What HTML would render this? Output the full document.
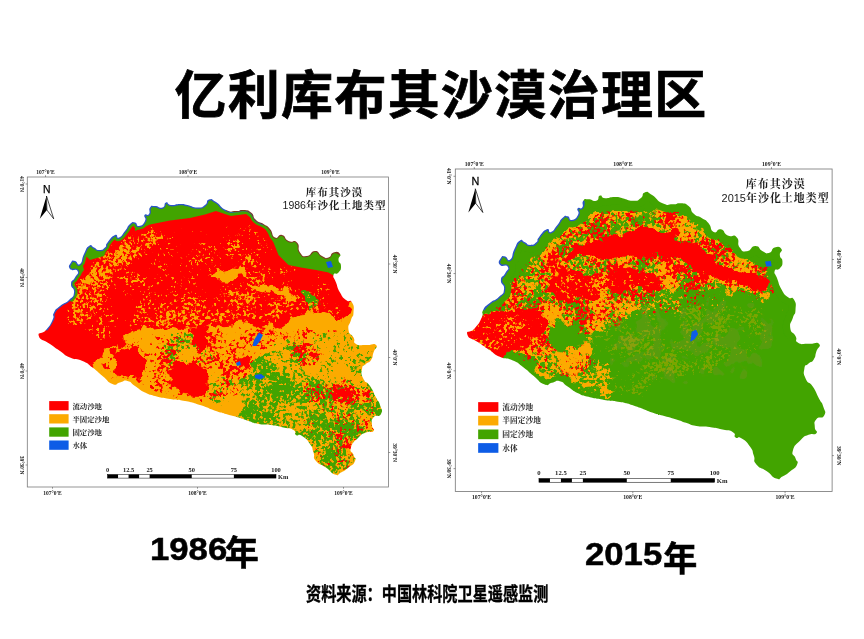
<!DOCTYPE html>
<html lang="zh"><head><meta charset="utf-8"><title>亿利库布其沙漠治理区</title>
<style>
html,body{margin:0;padding:0;background:#fff}
body{width:864px;height:639px;position:relative;overflow:hidden;font-family:"Liberation Sans","Noto Sans CJK SC",sans-serif;color:#000}
.t{position:absolute;white-space:nowrap;line-height:1}
#title{left:174.5px;top:70px;font-size:52px;font-weight:700;-webkit-text-stroke:0.7px #000;letter-spacing:1.3px}
.yr{font-size:32px;font-weight:bold}
.yr span{display:inline-block;transform:scaleX(1.085);transform-origin:0 50%;-webkit-text-stroke:0.5px #000}
.yr b{font-weight:700;-webkit-text-stroke:0.6px #000;font-size:34px;position:relative;top:5.5px;margin-left:4px;display:inline-block}
#y2 b{margin-left:7.5px}
#y1{left:149.5px;top:530.5px}
#y2{left:584.5px;top:536px}
#src{left:306px;top:585px;font-size:19.5px;font-weight:bold;-webkit-text-stroke:0.35px #000;transform:scaleX(.777);transform-origin:0 0}
</style></head><body>
<div class="t" id="title">亿利库布其沙漠治理区</div>
<svg width="864" height="639" viewBox="0 0 864 639" style="position:absolute;left:0;top:0"><defs><clipPath id="oc"><path d="M38.8,336.0C37.4,331.3 41.4,335.3 46.0,330.0C50.6,324.7 49.8,325.8 52.5,320.0C55.2,314.2 51.5,317.2 54.0,312.5C56.5,307.8 55.0,310.2 60.0,306.0C65.0,301.8 64.3,304.5 69.0,300.0C73.7,295.5 73.3,297.8 74.0,292.5C74.7,287.2 70.7,289.0 71.0,284.0C71.3,279.0 72.8,281.8 75.0,277.5C77.2,273.2 79.2,273.8 77.5,271.0C75.8,268.2 72.2,271.8 70.0,269.0C67.8,266.2 69.3,265.2 71.0,262.5C72.7,259.8 72.0,260.5 75.0,261.0C78.0,261.5 77.0,266.3 80.0,264.0C83.0,261.7 81.0,260.0 84.0,254.0C87.0,248.0 85.7,248.2 89.0,246.0C92.3,243.8 90.7,246.2 94.0,247.5C97.3,248.8 95.3,250.0 99.0,250.0C102.7,250.0 102.2,250.0 105.0,247.5C107.8,245.0 104.2,246.7 107.5,242.5C110.8,238.3 111.2,236.7 115.0,235.0C118.8,233.3 115.7,238.8 119.0,237.5C122.3,236.2 121.3,235.5 125.0,231.0C128.7,226.5 126.7,226.8 130.0,224.0C133.3,221.2 132.0,221.8 135.0,222.5C138.0,223.2 135.7,226.5 139.0,226.0C142.3,225.5 143.2,224.7 145.0,221.0C146.8,217.3 143.2,217.3 144.5,215.0C145.8,212.7 147.2,216.5 149.0,214.0C150.8,211.5 148.0,210.2 150.0,207.5C152.0,204.8 150.8,206.0 155.0,206.0C159.2,206.0 158.8,208.7 162.5,207.5C166.2,206.3 163.2,203.3 166.0,202.5C168.8,201.7 166.3,204.5 171.0,205.0C175.7,205.5 174.5,204.0 180.0,204.0C185.5,204.0 181.7,203.8 187.5,205.0C193.3,206.2 191.7,207.5 197.5,207.5C203.3,207.5 201.2,207.7 205.0,205.0C208.8,202.3 205.3,200.5 209.0,199.5C212.7,198.5 210.3,198.5 216.0,202.0C221.7,205.5 219.3,207.0 226.0,210.0C232.7,213.0 230.2,211.0 236.0,211.0C241.8,211.0 238.5,209.5 243.5,210.0C248.5,210.5 246.8,209.2 251.0,212.5C255.2,215.8 251.8,216.2 256.0,220.0C260.2,223.8 258.8,221.0 263.5,224.0C268.2,227.0 266.2,224.5 270.0,229.0C273.8,233.5 271.0,235.5 275.0,237.5C279.0,239.5 277.5,233.8 282.0,235.0C286.5,236.2 283.5,238.5 288.5,241.0C293.5,243.5 293.2,238.7 297.0,242.5C300.8,246.3 296.7,248.0 300.0,252.5C303.3,257.0 302.0,256.5 307.0,256.0C312.0,255.5 310.0,251.0 315.0,251.0C320.0,251.0 317.5,253.8 322.0,256.0C326.5,258.2 324.7,258.7 328.5,257.5C332.3,256.3 329.7,253.7 333.5,252.5C337.3,251.3 338.3,251.5 340.0,254.0C341.7,256.5 338.2,256.0 338.5,260.0C338.8,264.0 341.0,261.8 341.0,266.0C341.0,270.2 341.0,269.5 338.5,272.5C336.0,275.5 334.3,271.7 333.5,275.0C332.7,278.3 333.8,276.7 336.0,282.5C338.2,288.3 336.7,286.7 340.0,292.5C343.3,298.3 342.0,296.7 346.0,300.0C350.0,303.3 349.5,298.3 352.0,302.5C354.5,306.7 353.8,306.7 353.5,312.5C353.2,318.3 352.7,314.2 351.0,320.0C349.3,325.8 347.7,324.2 348.5,330.0C349.3,335.8 351.0,332.8 353.5,337.5C356.0,342.2 351.8,341.5 356.0,344.0C360.2,346.5 359.3,344.7 366.0,345.0C372.7,345.3 373.5,342.5 376.0,345.0C378.5,347.5 375.2,347.5 373.5,352.5C371.8,357.5 373.5,356.2 371.0,360.0C368.5,363.8 369.0,361.0 366.0,364.0C363.0,367.0 362.8,364.0 362.0,369.0C361.2,374.0 360.8,373.3 363.5,379.0C366.2,384.7 365.8,379.8 370.0,386.0C374.2,392.2 372.7,391.2 376.0,397.5C379.3,403.8 378.3,399.5 380.0,405.0C381.7,410.5 383.2,409.8 381.0,414.0C378.8,418.2 376.5,413.8 373.5,417.5C370.5,421.2 372.0,420.5 372.0,425.0C372.0,429.5 375.5,428.5 373.5,431.0C371.5,433.5 371.0,430.3 366.0,432.5C361.0,434.7 363.5,432.5 358.5,437.5C353.5,442.5 352.7,441.7 351.0,447.5C349.3,453.3 352.2,450.5 353.5,455.0C354.8,459.5 356.7,456.8 355.0,461.0C353.3,465.2 353.2,463.7 348.5,467.5C343.8,471.3 345.5,470.2 341.0,472.5C336.5,474.8 340.0,476.2 335.0,474.5C330.0,472.8 332.3,472.0 326.0,467.5C319.7,463.0 320.2,466.0 316.0,461.0C311.8,456.0 315.5,458.2 313.5,452.5C311.5,446.8 313.8,449.5 310.0,444.0C306.2,438.5 306.7,439.0 302.0,436.0C297.3,433.0 298.8,437.0 296.0,435.0C293.2,433.0 297.7,432.5 293.5,430.0C289.3,427.5 291.0,429.2 283.5,427.5C276.0,425.8 279.3,426.2 271.0,425.0C262.7,423.8 266.0,425.3 258.5,424.0C251.0,422.7 255.2,423.2 248.5,421.0C241.8,418.8 246.0,419.8 238.5,417.5C231.0,415.2 233.5,416.2 226.0,414.0C218.5,411.8 224.7,414.0 216.0,411.0C207.3,408.0 210.3,408.3 200.0,405.0C189.7,401.7 195.0,403.0 185.0,401.0C175.0,399.0 180.0,400.7 170.0,399.0C160.0,397.3 163.3,398.2 155.0,396.0C146.7,393.8 151.7,395.8 145.0,392.5C138.3,389.2 140.8,389.8 135.0,386.0C129.2,382.2 132.5,382.2 127.5,381.0C122.5,379.8 125.0,381.5 120.0,382.5C115.0,383.5 118.3,386.2 112.5,384.0C106.7,381.8 109.2,381.5 102.5,376.0C95.8,370.5 99.2,372.5 92.5,367.5C85.8,362.5 90.0,364.3 82.5,361.0C75.0,357.7 77.5,360.8 70.0,357.5C62.5,354.2 66.7,355.5 60.0,351.0C53.3,346.5 57.1,349.0 50.0,344.0C42.9,339.0 40.1,340.7 38.8,336.0Z"/></clipPath><filter id="rough" filterUnits="userSpaceOnUse" x="20" y="170" width="375" height="325" color-interpolation-filters="sRGB"><feTurbulence type="fractalNoise" baseFrequency="0.06" numOctaves="4" seed="7" result="t"/><feDisplacementMap in="SourceGraphic" in2="t" scale="22" xChannelSelector="R" yChannelSelector="G"/></filter><filter id="soft" filterUnits="userSpaceOnUse" x="20" y="170" width="375" height="325"><feGaussianBlur stdDeviation="0.7"/></filter><filter id="softer" filterUnits="userSpaceOnUse" x="0" y="150" width="420" height="360"><feGaussianBlur stdDeviation="0.35"/></filter><filter id="sGr1" filterUnits="userSpaceOnUse" x="20" y="170" width="375" height="325" color-interpolation-filters="sRGB"><feTurbulence type="fractalNoise" baseFrequency="0.3" numOctaves="2" seed="13" result="n"/><feColorMatrix in="n" type="matrix" values="0 0 0 0 0 0 0 0 0 0 0 0 0 0 0 1 0 0 0 0" result="na"/><feTurbulence type="fractalNoise" baseFrequency="0.045" numOctaves="2" seed="113" result="m"/><feColorMatrix in="m" type="matrix" values="0 0 0 0 0 0 0 0 0 0 0 0 0 0 0 0 1 0 0 0" result="ma"/><feComposite in="na" in2="ma" operator="arithmetic" k1="0" k2="1" k3="0.8" k4="-0.400" result="nm"/><feGaussianBlur in="SourceAlpha" stdDeviation="5" result="b"/><feComposite in="nm" in2="b" operator="arithmetic" k1="0" k2="1" k3="0.6" k4="-0.6" result="c"/><feComponentTransfer in="c" result="t"><feFuncA type="linear" slope="10" intercept="-5.000"/></feComponentTransfer><feFlood flood-color="#42a406"/><feComposite operator="in" in2="t"/></filter><filter id="sGr1b" filterUnits="userSpaceOnUse" x="20" y="170" width="375" height="325" color-interpolation-filters="sRGB"><feTurbulence type="fractalNoise" baseFrequency="0.3" numOctaves="2" seed="14" result="n"/><feColorMatrix in="n" type="matrix" values="0 0 0 0 0 0 0 0 0 0 0 0 0 0 0 1 0 0 0 0" result="na"/><feTurbulence type="fractalNoise" baseFrequency="0.045" numOctaves="2" seed="114" result="m"/><feColorMatrix in="m" type="matrix" values="0 0 0 0 0 0 0 0 0 0 0 0 0 0 0 0 1 0 0 0" result="ma"/><feComposite in="na" in2="ma" operator="arithmetic" k1="0" k2="1" k3="0.8" k4="-0.400" result="nm"/><feGaussianBlur in="SourceAlpha" stdDeviation="5" result="b"/><feComposite in="nm" in2="b" operator="arithmetic" k1="0" k2="1" k3="0.6" k4="-0.6" result="c"/><feComponentTransfer in="c" result="t"><feFuncA type="linear" slope="10" intercept="-5.800"/></feComponentTransfer><feFlood flood-color="#42a406"/><feComposite operator="in" in2="t"/></filter><filter id="sOr4" filterUnits="userSpaceOnUse" x="20" y="170" width="375" height="325" color-interpolation-filters="sRGB"><feTurbulence type="fractalNoise" baseFrequency="0.3" numOctaves="2" seed="17" result="n"/><feColorMatrix in="n" type="matrix" values="0 0 0 0 0 0 0 0 0 0 0 0 0 0 0 1 0 0 0 0" result="na"/><feTurbulence type="fractalNoise" baseFrequency="0.045" numOctaves="2" seed="117" result="m"/><feColorMatrix in="m" type="matrix" values="0 0 0 0 0 0 0 0 0 0 0 0 0 0 0 0 1 0 0 0" result="ma"/><feComposite in="na" in2="ma" operator="arithmetic" k1="0" k2="1" k3="0.8" k4="-0.400" result="nm"/><feGaussianBlur in="SourceAlpha" stdDeviation="5" result="b"/><feComposite in="nm" in2="b" operator="arithmetic" k1="0" k2="1" k3="0.6" k4="-0.6" result="c"/><feComponentTransfer in="c" result="t"><feFuncA type="linear" slope="10" intercept="-4.900"/></feComponentTransfer><feFlood flood-color="#fcaa04"/><feComposite operator="in" in2="t"/></filter><filter id="sGr2" filterUnits="userSpaceOnUse" x="20" y="170" width="375" height="325" color-interpolation-filters="sRGB"><feTurbulence type="fractalNoise" baseFrequency="0.3" numOctaves="2" seed="31" result="n"/><feColorMatrix in="n" type="matrix" values="0 0 0 0 0 0 0 0 0 0 0 0 0 0 0 1 0 0 0 0" result="na"/><feTurbulence type="fractalNoise" baseFrequency="0.045" numOctaves="2" seed="131" result="m"/><feColorMatrix in="m" type="matrix" values="0 0 0 0 0 0 0 0 0 0 0 0 0 0 0 0 1 0 0 0" result="ma"/><feComposite in="na" in2="ma" operator="arithmetic" k1="0" k2="1" k3="0.8" k4="-0.400" result="nm"/><feGaussianBlur in="SourceAlpha" stdDeviation="5" result="b"/><feComposite in="nm" in2="b" operator="arithmetic" k1="0" k2="1" k3="0.6" k4="-0.6" result="c"/><feComponentTransfer in="c" result="t"><feFuncA type="linear" slope="10" intercept="-5.900"/></feComponentTransfer><feFlood flood-color="#42a406"/><feComposite operator="in" in2="t"/></filter><filter id="sRd1" filterUnits="userSpaceOnUse" x="20" y="170" width="375" height="325" color-interpolation-filters="sRGB"><feTurbulence type="fractalNoise" baseFrequency="0.3" numOctaves="2" seed="5" result="n"/><feColorMatrix in="n" type="matrix" values="0 0 0 0 0 0 0 0 0 0 0 0 0 0 0 1 0 0 0 0" result="na"/><feTurbulence type="fractalNoise" baseFrequency="0.045" numOctaves="2" seed="105" result="m"/><feColorMatrix in="m" type="matrix" values="0 0 0 0 0 0 0 0 0 0 0 0 0 0 0 0 1 0 0 0" result="ma"/><feComposite in="na" in2="ma" operator="arithmetic" k1="0" k2="1" k3="0.8" k4="-0.400" result="nm"/><feGaussianBlur in="SourceAlpha" stdDeviation="3" result="b"/><feComposite in="nm" in2="b" operator="arithmetic" k1="0" k2="1" k3="0.6" k4="-0.6" result="c"/><feComponentTransfer in="c" result="t"><feFuncA type="linear" slope="10" intercept="-5.700"/></feComponentTransfer><feFlood flood-color="#fe0000"/><feComposite operator="in" in2="t"/></filter><filter id="sRd2" filterUnits="userSpaceOnUse" x="20" y="170" width="375" height="325" color-interpolation-filters="sRGB"><feTurbulence type="fractalNoise" baseFrequency="0.3" numOctaves="2" seed="9" result="n"/><feColorMatrix in="n" type="matrix" values="0 0 0 0 0 0 0 0 0 0 0 0 0 0 0 1 0 0 0 0" result="na"/><feTurbulence type="fractalNoise" baseFrequency="0.045" numOctaves="2" seed="109" result="m"/><feColorMatrix in="m" type="matrix" values="0 0 0 0 0 0 0 0 0 0 0 0 0 0 0 0 1 0 0 0" result="ma"/><feComposite in="na" in2="ma" operator="arithmetic" k1="0" k2="1" k3="0.8" k4="-0.400" result="nm"/><feGaussianBlur in="SourceAlpha" stdDeviation="4" result="b"/><feComposite in="nm" in2="b" operator="arithmetic" k1="0" k2="1" k3="0.6" k4="-0.6" result="c"/><feComponentTransfer in="c" result="t"><feFuncA type="linear" slope="10" intercept="-4.500"/></feComponentTransfer><feFlood flood-color="#fe0000"/><feComposite operator="in" in2="t"/></filter><filter id="sRd3" filterUnits="userSpaceOnUse" x="20" y="170" width="375" height="325" color-interpolation-filters="sRGB"><feTurbulence type="fractalNoise" baseFrequency="0.35" numOctaves="2" seed="29" result="n"/><feColorMatrix in="n" type="matrix" values="0 0 0 0 0 0 0 0 0 0 0 0 0 0 0 1 0 0 0 0" result="na"/><feTurbulence type="fractalNoise" baseFrequency="0.045" numOctaves="2" seed="129" result="m"/><feColorMatrix in="m" type="matrix" values="0 0 0 0 0 0 0 0 0 0 0 0 0 0 0 0 1 0 0 0" result="ma"/><feComposite in="na" in2="ma" operator="arithmetic" k1="0" k2="1" k3="0.8" k4="-0.400" result="nm"/><feGaussianBlur in="SourceAlpha" stdDeviation="5" result="b"/><feComposite in="nm" in2="b" operator="arithmetic" k1="0" k2="1" k3="0.6" k4="-0.6" result="c"/><feComponentTransfer in="c" result="t"><feFuncA type="linear" slope="10" intercept="-6.100"/></feComponentTransfer><feFlood flood-color="#fe0000"/><feComposite operator="in" in2="t"/></filter><filter id="sOr1" filterUnits="userSpaceOnUse" x="20" y="170" width="375" height="325" color-interpolation-filters="sRGB"><feTurbulence type="fractalNoise" baseFrequency="0.3" numOctaves="2" seed="3" result="n"/><feColorMatrix in="n" type="matrix" values="0 0 0 0 0 0 0 0 0 0 0 0 0 0 0 1 0 0 0 0" result="na"/><feTurbulence type="fractalNoise" baseFrequency="0.045" numOctaves="2" seed="103" result="m"/><feColorMatrix in="m" type="matrix" values="0 0 0 0 0 0 0 0 0 0 0 0 0 0 0 0 1 0 0 0" result="ma"/><feComposite in="na" in2="ma" operator="arithmetic" k1="0" k2="1" k3="0.8" k4="-0.400" result="nm"/><feGaussianBlur in="SourceAlpha" stdDeviation="3" result="b"/><feComposite in="nm" in2="b" operator="arithmetic" k1="0" k2="1" k3="0.6" k4="-0.6" result="c"/><feComponentTransfer in="c" result="t"><feFuncA type="linear" slope="10" intercept="-5.200"/></feComponentTransfer><feFlood flood-color="#fcaa04"/><feComposite operator="in" in2="t"/></filter><filter id="sOr2" filterUnits="userSpaceOnUse" x="20" y="170" width="375" height="325" color-interpolation-filters="sRGB"><feTurbulence type="fractalNoise" baseFrequency="0.3" numOctaves="2" seed="11" result="n"/><feColorMatrix in="n" type="matrix" values="0 0 0 0 0 0 0 0 0 0 0 0 0 0 0 1 0 0 0 0" result="na"/><feTurbulence type="fractalNoise" baseFrequency="0.045" numOctaves="2" seed="111" result="m"/><feColorMatrix in="m" type="matrix" values="0 0 0 0 0 0 0 0 0 0 0 0 0 0 0 0 1 0 0 0" result="ma"/><feComposite in="na" in2="ma" operator="arithmetic" k1="0" k2="1" k3="0.6" k4="-0.300" result="nm"/><feGaussianBlur in="SourceAlpha" stdDeviation="3" result="b"/><feComposite in="nm" in2="b" operator="arithmetic" k1="0" k2="1" k3="0.6" k4="-0.6" result="c"/><feComponentTransfer in="c" result="t"><feFuncA type="linear" slope="10" intercept="-5.700"/></feComponentTransfer><feFlood flood-color="#fcaa04"/><feComposite operator="in" in2="t"/></filter><filter id="sOr3" filterUnits="userSpaceOnUse" x="20" y="170" width="375" height="325" color-interpolation-filters="sRGB"><feTurbulence type="fractalNoise" baseFrequency="0.35" numOctaves="2" seed="23" result="n"/><feColorMatrix in="n" type="matrix" values="0 0 0 0 0 0 0 0 0 0 0 0 0 0 0 1 0 0 0 0" result="na"/><feTurbulence type="fractalNoise" baseFrequency="0.045" numOctaves="2" seed="123" result="m"/><feColorMatrix in="m" type="matrix" values="0 0 0 0 0 0 0 0 0 0 0 0 0 0 0 0 1 0 0 0" result="ma"/><feComposite in="na" in2="ma" operator="arithmetic" k1="0" k2="1" k3="0.8" k4="-0.400" result="nm"/><feGaussianBlur in="SourceAlpha" stdDeviation="3" result="b"/><feComposite in="nm" in2="b" operator="arithmetic" k1="0" k2="1" k3="0.6" k4="-0.6" result="c"/><feComponentTransfer in="c" result="t"><feFuncA type="linear" slope="10" intercept="-6.800"/></feComponentTransfer><feFlood flood-color="#fcaa04"/><feComposite operator="in" in2="t"/></filter><filter id="tRd1" filterUnits="userSpaceOnUse" x="20" y="170" width="375" height="325" color-interpolation-filters="sRGB"><feTurbulence type="fractalNoise" baseFrequency="0.3" numOctaves="2" seed="41" result="n"/><feColorMatrix in="n" type="matrix" values="0 0 0 0 0 0 0 0 0 0 0 0 0 0 0 1 0 0 0 0" result="na"/><feTurbulence type="fractalNoise" baseFrequency="0.045" numOctaves="2" seed="141" result="m"/><feColorMatrix in="m" type="matrix" values="0 0 0 0 0 0 0 0 0 0 0 0 0 0 0 0 1 0 0 0" result="ma"/><feComposite in="na" in2="ma" operator="arithmetic" k1="0" k2="1" k3="0.8" k4="-0.400" result="nm"/><feGaussianBlur in="SourceAlpha" stdDeviation="3" result="b"/><feComposite in="nm" in2="b" operator="arithmetic" k1="0" k2="1" k3="0.6" k4="-0.6" result="c"/><feComponentTransfer in="c" result="t"><feFuncA type="linear" slope="10" intercept="-4.700"/></feComponentTransfer><feFlood flood-color="#fe0000"/><feComposite operator="in" in2="t"/></filter><filter id="tGr1" filterUnits="userSpaceOnUse" x="20" y="170" width="375" height="325" color-interpolation-filters="sRGB"><feTurbulence type="fractalNoise" baseFrequency="0.3" numOctaves="2" seed="43" result="n"/><feColorMatrix in="n" type="matrix" values="0 0 0 0 0 0 0 0 0 0 0 0 0 0 0 1 0 0 0 0" result="na"/><feTurbulence type="fractalNoise" baseFrequency="0.045" numOctaves="2" seed="143" result="m"/><feColorMatrix in="m" type="matrix" values="0 0 0 0 0 0 0 0 0 0 0 0 0 0 0 0 1 0 0 0" result="ma"/><feComposite in="na" in2="ma" operator="arithmetic" k1="0" k2="1" k3="0.8" k4="-0.400" result="nm"/><feGaussianBlur in="SourceAlpha" stdDeviation="2" result="b"/><feComposite in="nm" in2="b" operator="arithmetic" k1="0" k2="1" k3="0.6" k4="-0.6" result="c"/><feComponentTransfer in="c" result="t"><feFuncA type="linear" slope="10" intercept="-5.500"/></feComponentTransfer><feFlood flood-color="#42a406"/><feComposite operator="in" in2="t"/></filter><filter id="tOr4" filterUnits="userSpaceOnUse" x="20" y="170" width="375" height="325" color-interpolation-filters="sRGB"><feTurbulence type="fractalNoise" baseFrequency="0.3" numOctaves="2" seed="67" result="n"/><feColorMatrix in="n" type="matrix" values="0 0 0 0 0 0 0 0 0 0 0 0 0 0 0 1 0 0 0 0" result="na"/><feTurbulence type="fractalNoise" baseFrequency="0.045" numOctaves="2" seed="167" result="m"/><feColorMatrix in="m" type="matrix" values="0 0 0 0 0 0 0 0 0 0 0 0 0 0 0 0 1 0 0 0" result="ma"/><feComposite in="na" in2="ma" operator="arithmetic" k1="0" k2="1" k3="0.8" k4="-0.400" result="nm"/><feGaussianBlur in="SourceAlpha" stdDeviation="6" result="b"/><feComposite in="nm" in2="b" operator="arithmetic" k1="0" k2="1" k3="0.6" k4="-0.6" result="c"/><feComponentTransfer in="c" result="t"><feFuncA type="linear" slope="10" intercept="-5.100"/></feComponentTransfer><feFlood flood-color="#fcaa04"/><feComposite operator="in" in2="t"/></filter><filter id="tRd4" filterUnits="userSpaceOnUse" x="20" y="170" width="375" height="325" color-interpolation-filters="sRGB"><feTurbulence type="fractalNoise" baseFrequency="0.3" numOctaves="2" seed="71" result="n"/><feColorMatrix in="n" type="matrix" values="0 0 0 0 0 0 0 0 0 0 0 0 0 0 0 1 0 0 0 0" result="na"/><feTurbulence type="fractalNoise" baseFrequency="0.045" numOctaves="2" seed="171" result="m"/><feColorMatrix in="m" type="matrix" values="0 0 0 0 0 0 0 0 0 0 0 0 0 0 0 0 1 0 0 0" result="ma"/><feComposite in="na" in2="ma" operator="arithmetic" k1="0" k2="1" k3="0.8" k4="-0.400" result="nm"/><feGaussianBlur in="SourceAlpha" stdDeviation="6" result="b"/><feComposite in="nm" in2="b" operator="arithmetic" k1="0" k2="1" k3="0.6" k4="-0.6" result="c"/><feComponentTransfer in="c" result="t"><feFuncA type="linear" slope="10" intercept="-5.500"/></feComponentTransfer><feFlood flood-color="#fe0000"/><feComposite operator="in" in2="t"/></filter><filter id="tOr3" filterUnits="userSpaceOnUse" x="20" y="170" width="375" height="325" color-interpolation-filters="sRGB"><feTurbulence type="fractalNoise" baseFrequency="0.3" numOctaves="2" seed="61" result="n"/><feColorMatrix in="n" type="matrix" values="0 0 0 0 0 0 0 0 0 0 0 0 0 0 0 1 0 0 0 0" result="na"/><feTurbulence type="fractalNoise" baseFrequency="0.045" numOctaves="2" seed="161" result="m"/><feColorMatrix in="m" type="matrix" values="0 0 0 0 0 0 0 0 0 0 0 0 0 0 0 0 1 0 0 0" result="ma"/><feComposite in="na" in2="ma" operator="arithmetic" k1="0" k2="1" k3="0.8" k4="-0.400" result="nm"/><feGaussianBlur in="SourceAlpha" stdDeviation="4" result="b"/><feComposite in="nm" in2="b" operator="arithmetic" k1="0" k2="1" k3="0.6" k4="-0.6" result="c"/><feComponentTransfer in="c" result="t"><feFuncA type="linear" slope="10" intercept="-4.200"/></feComponentTransfer><feFlood flood-color="#fcaa04"/><feComposite operator="in" in2="t"/></filter><filter id="tOr5" filterUnits="userSpaceOnUse" x="20" y="170" width="375" height="325" color-interpolation-filters="sRGB"><feTurbulence type="fractalNoise" baseFrequency="0.3" numOctaves="2" seed="73" result="n"/><feColorMatrix in="n" type="matrix" values="0 0 0 0 0 0 0 0 0 0 0 0 0 0 0 1 0 0 0 0" result="na"/><feTurbulence type="fractalNoise" baseFrequency="0.045" numOctaves="2" seed="173" result="m"/><feColorMatrix in="m" type="matrix" values="0 0 0 0 0 0 0 0 0 0 0 0 0 0 0 0 1 0 0 0" result="ma"/><feComposite in="na" in2="ma" operator="arithmetic" k1="0" k2="1" k3="0.8" k4="-0.400" result="nm"/><feGaussianBlur in="SourceAlpha" stdDeviation="5" result="b"/><feComposite in="nm" in2="b" operator="arithmetic" k1="0" k2="1" k3="0.6" k4="-0.6" result="c"/><feComponentTransfer in="c" result="t"><feFuncA type="linear" slope="10" intercept="-4.500"/></feComponentTransfer><feFlood flood-color="#fcaa04"/><feComposite operator="in" in2="t"/></filter><filter id="tOr1" filterUnits="userSpaceOnUse" x="20" y="170" width="375" height="325" color-interpolation-filters="sRGB"><feTurbulence type="fractalNoise" baseFrequency="0.35" numOctaves="2" seed="47" result="n"/><feColorMatrix in="n" type="matrix" values="0 0 0 0 0 0 0 0 0 0 0 0 0 0 0 1 0 0 0 0" result="na"/><feTurbulence type="fractalNoise" baseFrequency="0.045" numOctaves="2" seed="147" result="m"/><feColorMatrix in="m" type="matrix" values="0 0 0 0 0 0 0 0 0 0 0 0 0 0 0 0 1 0 0 0" result="ma"/><feComposite in="na" in2="ma" operator="arithmetic" k1="0" k2="1" k3="0.8" k4="-0.400" result="nm"/><feGaussianBlur in="SourceAlpha" stdDeviation="3" result="b"/><feComposite in="nm" in2="b" operator="arithmetic" k1="0" k2="1" k3="0.6" k4="-0.6" result="c"/><feComponentTransfer in="c" result="t"><feFuncA type="linear" slope="10" intercept="-5.900"/></feComponentTransfer><feFlood flood-color="#fcaa04"/><feComposite operator="in" in2="t"/></filter><filter id="tOl" filterUnits="userSpaceOnUse" x="20" y="170" width="375" height="325" color-interpolation-filters="sRGB"><feTurbulence type="fractalNoise" baseFrequency="0.08" numOctaves="2" seed="53" result="n"/><feColorMatrix in="n" type="matrix" values="0 0 0 0 0 0 0 0 0 0 0 0 0 0 0 1 0 0 0 0" result="na"/><feTurbulence type="fractalNoise" baseFrequency="0.045" numOctaves="2" seed="153" result="m"/><feColorMatrix in="m" type="matrix" values="0 0 0 0 0 0 0 0 0 0 0 0 0 0 0 0 1 0 0 0" result="ma"/><feComposite in="na" in2="ma" operator="arithmetic" k1="0" k2="1" k3="0.8" k4="-0.400" result="nm"/><feGaussianBlur in="SourceAlpha" stdDeviation="8" result="b"/><feComposite in="nm" in2="b" operator="arithmetic" k1="0" k2="1" k3="0.6" k4="-0.6" result="c"/><feComponentTransfer in="c" result="t"><feFuncA type="linear" slope="10" intercept="-4.800"/></feComponentTransfer><feFlood flood-color="#8a8f10"/><feComposite operator="in" in2="t"/></filter><filter id="tOr2" filterUnits="userSpaceOnUse" x="20" y="170" width="375" height="325" color-interpolation-filters="sRGB"><feTurbulence type="fractalNoise" baseFrequency="0.35" numOctaves="2" seed="59" result="n"/><feColorMatrix in="n" type="matrix" values="0 0 0 0 0 0 0 0 0 0 0 0 0 0 0 1 0 0 0 0" result="na"/><feTurbulence type="fractalNoise" baseFrequency="0.045" numOctaves="2" seed="159" result="m"/><feColorMatrix in="m" type="matrix" values="0 0 0 0 0 0 0 0 0 0 0 0 0 0 0 0 1 0 0 0" result="ma"/><feComposite in="na" in2="ma" operator="arithmetic" k1="0" k2="1" k3="0.8" k4="-0.400" result="nm"/><feGaussianBlur in="SourceAlpha" stdDeviation="6" result="b"/><feComposite in="nm" in2="b" operator="arithmetic" k1="0" k2="1" k3="0.6" k4="-0.6" result="c"/><feComponentTransfer in="c" result="t"><feFuncA type="linear" slope="10" intercept="-5.900"/></feComponentTransfer><feFlood flood-color="#fcaa04"/><feComposite operator="in" in2="t"/></filter></defs><g><g clip-path="url(#oc)"><g filter="url(#soft)"><g filter="url(#rough)"><rect x="20" y="170" width="375" height="325" fill="#fcaa04"/><polygon points="236.0,422.0 243.0,400.0 238.0,386.0 250.0,368.0 268.0,356.0 285.0,352.0 300.0,362.0 312.0,372.0 322.0,382.0 330.0,396.0 345.0,408.0 362.0,404.0 390.0,404.0 390.0,485.0 300.0,485.0" fill="#42a406" /></g><polygon points="262.0,342.0 300.0,332.0 345.0,326.0 392.0,335.0 396.0,378.0 340.0,380.0 300.0,366.0 270.0,356.0" fill="#000" filter="url(#sGr1b)" /><polygon points="300.0,368.0 340.0,376.0 396.0,374.0 396.0,445.0 372.0,445.0 330.0,400.0" fill="#000" filter="url(#sGr1)" /><polygon points="225.0,425.0 236.0,398.0 232.0,384.0 246.0,364.0 266.0,350.0 287.0,346.0 304.0,357.0 316.0,368.0 326.0,378.0 334.0,392.0 347.0,402.0 362.0,398.0 392.0,398.0 392.0,485.0 295.0,485.0" fill="#000" filter="url(#sOr4)" /><polygon points="150.0,330.0 200.0,325.0 215.0,350.0 240.0,380.0 238.0,415.0 200.0,404.0 170.0,380.0" fill="#000" filter="url(#sGr2)" /><polygon points="95.0,365.0 130.0,335.0 250.0,322.0 290.0,330.0 260.0,360.0 240.0,400.0 200.0,404.0 150.0,394.0 112.0,382.0" fill="#000" filter="url(#sRd1)" /><polygon points="288.0,345.0 305.0,338.0 322.0,345.0 320.0,362.0 302.0,370.0 288.0,362.0" fill="#000" filter="url(#sRd2)" /><polygon points="318.0,384.0 345.0,378.0 372.0,388.0 374.0,404.0 350.0,410.0 325.0,404.0" fill="#000" filter="url(#sRd2)" /><polygon points="264.0,332.0 300.0,326.0 340.0,322.0 340.0,334.0 300.0,340.0 268.0,342.0" fill="#000" filter="url(#sRd2)" /><polygon points="300.0,380.0 382.0,380.0 382.0,475.0 320.0,475.0 300.0,440.0" fill="#000" filter="url(#sRd3)" /><g filter="url(#rough)"><polygon points="25.0,340.0 25.0,185.0 365.0,185.0 365.0,296.0 352.5,300.0 350.0,313.0 335.0,317.5 320.0,312.5 305.0,308.0 297.5,317.0 280.0,328.0 262.0,332.0 246.0,324.0 225.0,326.0 205.0,328.0 185.0,330.0 167.5,326.0 147.5,329.0 130.0,333.0 122.5,342.5 105.0,355.0 95.0,363.0 88.0,372.0 60.0,356.0" fill="#fe0000" /><polygon points="112.0,352.0 125.0,343.0 138.0,347.0 146.0,360.0 144.0,373.0 136.0,380.0 126.0,376.0 117.0,366.0" fill="#fe0000" /><polygon points="165.0,369.0 178.0,360.0 195.0,362.0 206.0,372.0 207.0,385.0 198.0,394.0 182.0,392.0 170.0,384.0" fill="#fe0000" /><polygon points="192.0,330.0 205.0,324.0 213.0,335.0 210.0,348.0 200.0,353.0 193.0,345.0" fill="#fe0000" /><polygon points="238.0,362.0 246.0,359.0 253.0,362.0 250.0,367.0 240.0,368.0" fill="#fe0000" /><polygon points="214.0,272.0 230.0,268.0 247.0,271.0 246.0,277.0 228.0,279.0 215.0,278.0" fill="#fcaa04" /><polygon points="249.0,284.0 270.0,286.0 298.0,296.0 297.0,301.0 270.0,294.0 250.0,290.0" fill="#fcaa04" /><polygon points="305.0,295.0 313.0,291.0 318.0,298.0 316.0,307.0 308.0,309.0 304.0,302.0" fill="#42a406" /></g><polygon points="62.0,322.0 72.0,296.0 80.0,276.0 92.0,258.0 112.0,243.0 135.0,232.0 160.0,228.0 176.0,240.0 152.0,252.0 130.0,264.0 114.0,282.0 102.0,302.0 88.0,324.0 70.0,332.0" fill="#000" filter="url(#sOr1)" /><polygon points="120.0,318.0 170.0,296.0 240.0,286.0 300.0,290.0 345.0,300.0 348.0,318.0 300.0,322.0 240.0,324.0 170.0,328.0 128.0,340.0" fill="#000" filter="url(#sOr2)" /><polygon points="60.0,330.0 80.0,270.0 150.0,225.0 250.0,222.0 330.0,280.0 345.0,300.0 200.0,315.0 100.0,345.0" fill="#000" filter="url(#sOr3)" /><path d="M69.0,300.0C70.7,297.5 73.3,297.8 74.0,292.5C74.7,287.2 70.7,289.0 71.0,284.0C71.3,279.0 72.8,281.8 75.0,277.5C77.2,273.2 79.2,273.8 77.5,271.0C75.8,268.2 72.2,271.8 70.0,269.0C67.8,266.2 69.3,265.2 71.0,262.5C72.7,259.8 72.0,260.5 75.0,261.0C78.0,261.5 77.0,266.3 80.0,264.0C83.0,261.7 81.0,260.0 84.0,254.0C87.0,248.0 85.7,248.2 89.0,246.0C92.3,243.8 90.7,246.2 94.0,247.5C97.3,248.8 95.3,250.0 99.0,250.0C102.7,250.0 102.2,250.0 105.0,247.5C107.8,245.0 104.2,246.7 107.5,242.5C110.8,238.3 111.2,236.7 115.0,235.0C118.8,233.3 115.7,238.8 119.0,237.5C122.3,236.2 121.3,235.5 125.0,231.0C128.7,226.5 126.7,226.8 130.0,224.0C133.3,221.2 132.0,221.8 135.0,222.5C138.0,223.2 135.7,226.5 139.0,226.0C142.3,225.5 143.2,224.7 145.0,221.0C146.8,217.3 143.2,217.3 144.5,215.0C145.8,212.7 147.2,216.5 149.0,214.0C150.8,211.5 148.0,210.2 150.0,207.5C152.0,204.8 150.8,206.0 155.0,206.0C159.2,206.0 158.8,208.7 162.5,207.5C166.2,206.3 163.2,203.3 166.0,202.5C168.8,201.7 166.3,204.5 171.0,205.0C175.7,205.5 174.5,204.0 180.0,204.0C185.5,204.0 181.7,203.8 187.5,205.0C193.3,206.2 191.7,207.5 197.5,207.5C203.3,207.5 201.2,207.7 205.0,205.0C208.8,202.3 205.3,200.5 209.0,199.5C212.7,198.5 210.3,198.5 216.0,202.0C221.7,205.5 219.3,207.0 226.0,210.0C232.7,213.0 230.2,211.0 236.0,211.0C241.8,211.0 238.5,209.5 243.5,210.0C248.5,210.5 246.8,209.2 251.0,212.5C255.2,215.8 251.8,216.2 256.0,220.0C260.2,223.8 258.8,221.0 263.5,224.0C268.2,227.0 266.2,224.5 270.0,229.0C273.8,233.5 271.0,235.5 275.0,237.5C279.0,239.5 277.5,233.8 282.0,235.0C286.5,236.2 283.5,238.5 288.5,241.0C293.5,243.5 293.2,238.7 297.0,242.5C300.8,246.3 296.7,248.0 300.0,252.5C303.3,257.0 302.0,256.5 307.0,256.0C312.0,255.5 310.0,251.0 315.0,251.0C320.0,251.0 317.5,253.8 322.0,256.0C326.5,258.2 324.7,258.7 328.5,257.5C332.3,256.3 329.7,253.7 333.5,252.5C337.3,251.3 338.3,251.5 340.0,254.0C341.7,256.5 338.2,256.0 338.5,260.0C338.8,264.0 341.0,261.8 341.0,266.0C341.0,270.2 341.0,269.5 338.5,272.5C336.0,275.5 335.2,274.2 333.5,275.0" fill="none" stroke="#42a406" stroke-width="7" stroke-linejoin="round"/><polygon points="135.0,222.0 135.0,231.0 150.0,224.5 170.0,220.5 190.0,218.0 205.0,214.5 216.0,211.0 231.0,216.0 246.0,214.0 256.0,222.0 240.0,205.0 200.0,198.0 150.0,205.0" fill="#42a406" /><polygon points="256.0,220.0 266.0,230.0 273.5,242.5 278.5,255.0 288.5,265.0 301.0,267.5 316.0,270.0 328.5,272.5 336.0,277.0 345.0,265.0 342.0,250.0 300.0,240.0 270.0,222.0" fill="#42a406" /><polygon points="68.0,258.0 82.0,262.0 84.0,270.0 78.0,278.0 68.0,274.0" fill="#42a406" /><polygon points="84.0,246.0 100.0,250.0 108.0,246.0 104.0,256.0 90.0,260.0 84.0,254.0" fill="#42a406" /><path d="M46.0,330.0C48.2,326.7 49.8,325.8 52.5,320.0C55.2,314.2 51.5,317.2 54.0,312.5C56.5,307.8 55.0,310.2 60.0,306.0C65.0,301.8 64.3,304.5 69.0,300.0C73.7,295.5 73.3,297.8 74.0,292.5C74.7,287.2 70.7,289.0 71.0,284.0C71.3,279.0 72.8,281.8 75.0,277.5C77.2,273.2 79.2,273.8 77.5,271.0C75.8,268.2 72.2,271.8 70.0,269.0C67.8,266.2 69.3,265.2 71.0,262.5C72.7,259.8 72.0,260.5 75.0,261.0C78.0,261.5 77.0,266.3 80.0,264.0C83.0,261.7 81.0,260.0 84.0,254.0C87.0,248.0 85.7,248.2 89.0,246.0C92.3,243.8 90.7,246.2 94.0,247.5C97.3,248.8 95.3,250.0 99.0,250.0C102.7,250.0 102.2,250.0 105.0,247.5C107.8,245.0 104.2,246.7 107.5,242.5C110.8,238.3 111.2,236.7 115.0,235.0C118.8,233.3 115.7,238.8 119.0,237.5C122.3,236.2 121.3,235.5 125.0,231.0C128.7,226.5 126.7,226.8 130.0,224.0C133.3,221.2 132.0,221.8 135.0,222.5C138.0,223.2 135.7,226.5 139.0,226.0C142.3,225.5 143.2,224.7 145.0,221.0C146.8,217.3 143.2,217.3 144.5,215.0C145.8,212.7 147.2,216.5 149.0,214.0C150.8,211.5 148.0,210.2 150.0,207.5C152.0,204.8 150.8,206.0 155.0,206.0C159.2,206.0 158.8,208.7 162.5,207.5C166.2,206.3 163.2,203.3 166.0,202.5C168.8,201.7 166.3,204.5 171.0,205.0C175.7,205.5 174.5,204.0 180.0,204.0C185.5,204.0 181.7,203.8 187.5,205.0C193.3,206.2 191.7,207.5 197.5,207.5C203.3,207.5 201.2,207.7 205.0,205.0C208.8,202.3 205.3,200.5 209.0,199.5C212.7,198.5 210.3,198.5 216.0,202.0C221.7,205.5 219.3,207.0 226.0,210.0C232.7,213.0 230.2,211.0 236.0,211.0C241.8,211.0 238.5,209.5 243.5,210.0C248.5,210.5 246.8,209.2 251.0,212.5C255.2,215.8 251.8,216.2 256.0,220.0C260.2,223.8 261.0,222.7 263.5,224.0" fill="none" stroke="#2b55c8" stroke-width="2.6" stroke-linejoin="round"/><path d="M226.0,210.0C229.3,210.3 230.2,211.0 236.0,211.0C241.8,211.0 238.5,209.5 243.5,210.0C248.5,210.5 246.8,209.2 251.0,212.5C255.2,215.8 251.8,216.2 256.0,220.0C260.2,223.8 258.8,221.0 263.5,224.0C268.2,227.0 266.2,224.5 270.0,229.0C273.8,233.5 271.0,235.5 275.0,237.5C279.0,239.5 277.5,233.8 282.0,235.0C286.5,236.2 283.5,238.5 288.5,241.0C293.5,243.5 293.2,238.7 297.0,242.5C300.8,246.3 296.7,248.0 300.0,252.5C303.3,257.0 302.0,256.5 307.0,256.0C312.0,255.5 310.0,251.0 315.0,251.0C320.0,251.0 317.5,253.8 322.0,256.0C326.5,258.2 324.7,258.7 328.5,257.5C332.3,256.3 329.7,253.7 333.5,252.5C337.3,251.3 337.8,253.5 340.0,254.0" fill="none" stroke="#7a3a20" stroke-width="2" stroke-linejoin="round"/><polygon points="259.0,332.5 263.0,335.0 260.0,341.0 256.0,346.0 252.5,346.0 254.0,340.0" fill="#0a5ce6" /><polygon points="255.0,375.0 261.0,374.0 265.0,377.0 260.0,379.5 255.0,378.0" fill="#0a5ce6" /><polygon points="236.0,363.0 240.0,361.0 241.0,365.0 237.0,366.0" fill="#0a5ce6" /><polygon points="326.0,262.0 331.0,261.0 333.0,267.0 328.0,268.0" fill="#0a5ce6" /></g></g><g filter="url(#softer)"><rect x="27.3" y="177" width="361.3" height="310" fill="none" stroke="#7a7a7a" stroke-width="0.8"/><line x1="45.5" y1="177" x2="45.5" y2="175.3" stroke="#555" stroke-width="0.6"/><line x1="188" y1="177" x2="188" y2="175.3" stroke="#555" stroke-width="0.6"/><line x1="330.5" y1="177" x2="330.5" y2="175.3" stroke="#555" stroke-width="0.6"/><line x1="52.5" y1="487" x2="52.5" y2="488.7" stroke="#555" stroke-width="0.6"/><line x1="197.5" y1="487" x2="197.5" y2="488.7" stroke="#555" stroke-width="0.6"/><line x1="343.5" y1="487" x2="343.5" y2="488.7" stroke="#555" stroke-width="0.6"/><line x1="27.3" y1="184" x2="25.6" y2="184" stroke="#555" stroke-width="0.6"/><line x1="27.3" y1="277.5" x2="25.6" y2="277.5" stroke="#555" stroke-width="0.6"/><line x1="27.3" y1="371" x2="25.6" y2="371" stroke="#555" stroke-width="0.6"/><line x1="27.3" y1="465" x2="25.6" y2="465" stroke="#555" stroke-width="0.6"/><line x1="388.6" y1="264" x2="390.3" y2="264" stroke="#555" stroke-width="0.6"/><line x1="388.6" y1="357.5" x2="390.3" y2="357.5" stroke="#555" stroke-width="0.6"/><line x1="388.6" y1="452.5" x2="390.3" y2="452.5" stroke="#555" stroke-width="0.6"/><text x="45.5" y="174" font-family="Liberation Serif,serif" font-weight="bold" font-size="5.5" fill="#1a1a1a" text-anchor="middle">107°0'E</text><text x="188" y="174" font-family="Liberation Serif,serif" font-weight="bold" font-size="5.5" fill="#1a1a1a" text-anchor="middle">108°0'E</text><text x="330.5" y="174" font-family="Liberation Serif,serif" font-weight="bold" font-size="5.5" fill="#1a1a1a" text-anchor="middle">109°0'E</text><text x="52.5" y="494.5" font-family="Liberation Serif,serif" font-weight="bold" font-size="5.5" fill="#1a1a1a" text-anchor="middle">107°0'E</text><text x="197.5" y="494.5" font-family="Liberation Serif,serif" font-weight="bold" font-size="5.5" fill="#1a1a1a" text-anchor="middle">108°0'E</text><text x="343.5" y="494.5" font-family="Liberation Serif,serif" font-weight="bold" font-size="5.5" fill="#1a1a1a" text-anchor="middle">109°0'E</text><text transform="translate(19.5,184) rotate(90)" x="0" y="0" font-family="Liberation Serif,serif" font-weight="bold" font-size="5.5" fill="#1a1a1a" text-anchor="middle">41°0'N</text><text transform="translate(19.5,277.5) rotate(90)" x="0" y="0" font-family="Liberation Serif,serif" font-weight="bold" font-size="5.5" fill="#1a1a1a" text-anchor="middle">40°30'N</text><text transform="translate(19.5,371) rotate(90)" x="0" y="0" font-family="Liberation Serif,serif" font-weight="bold" font-size="5.5" fill="#1a1a1a" text-anchor="middle">40°0'N</text><text transform="translate(19.5,465) rotate(90)" x="0" y="0" font-family="Liberation Serif,serif" font-weight="bold" font-size="5.5" fill="#1a1a1a" text-anchor="middle">39°30'N</text><text transform="translate(393,264) rotate(90)" x="0" y="0" font-family="Liberation Serif,serif" font-weight="bold" font-size="5.5" fill="#1a1a1a" text-anchor="middle">40°30'N</text><text transform="translate(393,357.5) rotate(90)" x="0" y="0" font-family="Liberation Serif,serif" font-weight="bold" font-size="5.5" fill="#1a1a1a" text-anchor="middle">40°0'N</text><text transform="translate(393,452.5) rotate(90)" x="0" y="0" font-family="Liberation Serif,serif" font-weight="bold" font-size="5.5" fill="#1a1a1a" text-anchor="middle">39°30'N</text><text x="46.7" y="192.8" font-family="Liberation Sans,sans-serif" font-size="10.4" text-anchor="middle" fill="#000" stroke="#000" stroke-width="0.25">N</text><polygon points="46.5,196 39.8,218.8 46.9,210" fill="#000"/><polygon points="46.5,196 53.7,218.8 46.9,210" fill="#fff" stroke="#000" stroke-width="0.7"/><text x="334.5" y="195.6" font-family="Liberation Serif,Noto Serif CJK SC,serif" font-weight="700" font-size="10.5" letter-spacing="1" fill="#1a1a1a" text-anchor="middle">库布其沙漠</text><text x="334.5" y="209" font-family="Liberation Serif,Noto Serif CJK SC,serif" font-weight="700" font-size="10.5" letter-spacing="1" fill="#1a1a1a" text-anchor="middle"><tspan font-family="Liberation Sans,sans-serif" font-weight="normal" letter-spacing="0">1986</tspan>年沙化土地类型</text><rect x="49.2" y="401.1" width="19.4" height="9.3" fill="#fe0000"/><text x="72.4" y="408.5" font-family="Liberation Serif,Noto Serif CJK SC,serif" font-weight="700" font-size="7.4" fill="#2a2a2a">流动沙地</text><rect x="49.2" y="414.2" width="19.4" height="9.3" fill="#fcaa04"/><text x="72.4" y="421.59999999999997" font-family="Liberation Serif,Noto Serif CJK SC,serif" font-weight="700" font-size="7.4" fill="#2a2a2a">半固定沙地</text><rect x="49.2" y="427.4" width="19.4" height="9.3" fill="#42a406"/><text x="72.4" y="434.79999999999995" font-family="Liberation Serif,Noto Serif CJK SC,serif" font-weight="700" font-size="7.4" fill="#2a2a2a">固定沙地</text><rect x="49.2" y="440.5" width="19.4" height="9.3" fill="#0a5ce6"/><text x="72.4" y="447.9" font-family="Liberation Serif,Noto Serif CJK SC,serif" font-weight="700" font-size="7.4" fill="#2a2a2a">水体</text><rect x="107.5" y="474.5" width="168.5" height="3.6" fill="#fff" stroke="#000" stroke-width="0.5"/><rect x="107.50" y="474.5" width="10.53" height="3.6" fill="#000"/><rect x="128.56" y="474.5" width="10.53" height="3.6" fill="#000"/><rect x="149.62" y="474.5" width="42.12" height="3.6" fill="#000"/><rect x="233.88" y="474.5" width="42.12" height="3.6" fill="#000"/><text x="107.50" y="471.6" font-family="Liberation Serif,serif" font-weight="bold" font-size="6.4" fill="#222" text-anchor="middle">0</text><text x="128.56" y="471.6" font-family="Liberation Serif,serif" font-weight="bold" font-size="6.4" fill="#222" text-anchor="middle">12.5</text><text x="149.62" y="471.6" font-family="Liberation Serif,serif" font-weight="bold" font-size="6.4" fill="#222" text-anchor="middle">25</text><text x="191.75" y="471.6" font-family="Liberation Serif,serif" font-weight="bold" font-size="6.4" fill="#222" text-anchor="middle">50</text><text x="233.88" y="471.6" font-family="Liberation Serif,serif" font-weight="bold" font-size="6.4" fill="#222" text-anchor="middle">75</text><text x="276.00" y="471.6" font-family="Liberation Serif,serif" font-weight="bold" font-size="6.4" fill="#222" text-anchor="middle">100</text><text x="278" y="478.6" font-family="Liberation Serif,serif" font-weight="bold" font-size="6.4" fill="#222">Km</text></g></g><g transform="translate(455,169) scale(1.04288,1.04032) translate(-27,-177)"><g clip-path="url(#oc)"><g filter="url(#soft)"><g filter="url(#rough)"><rect x="20" y="170" width="375" height="325" fill="#42a406"/><polygon points="71.7,308.5 84.3,284.8 100.4,264.9 115.6,250.1 129.5,238.7 146.8,229.0 164.5,223.1 174.6,219.7 208.3,217.2 237.8,218.9 254.7,224.8 267.4,234.1 280.0,246.8 296.9,259.4 318.0,272.1 336.9,278.5 341.1,291.1 322.2,298.3 296.9,295.4 280.0,298.3 254.7,293.3 237.8,295.4 225.2,301.7 208.3,305.9 187.2,310.2 174.6,316.5 172.5,333.4 153.5,336.4 151.8,348.2 157.7,360.9 153.5,372.7 140.0,377.8 124.0,376.1 111.3,371.9 94.5,358.3 77.6,350.7 52.3,344.0 33.3,336.4 43.9,322.8" fill="#fcaa04" /></g><polygon points="71.7,308.5 84.3,284.8 100.4,264.9 115.6,250.1 129.5,238.7 146.8,229.0 164.5,223.1 174.6,219.7 208.3,217.2 237.8,218.9 254.7,224.8 267.4,234.1 280.0,246.8 296.9,259.4 318.0,272.1 336.9,278.5 341.1,291.1 322.2,298.3 296.9,295.4 280.0,298.3 254.7,293.3 237.8,295.4 225.2,301.7 208.3,305.9 187.2,310.2 174.6,316.5 172.5,333.4 153.5,336.4 151.8,348.2 157.7,360.9 153.5,372.7 140.0,377.8 124.0,376.1 111.3,371.9 94.5,358.3 77.6,350.7 52.3,344.0 33.3,336.4 43.9,322.8" fill="#000" filter="url(#tRd1)" stroke="#000" stroke-width="6"/><polygon points="71.7,308.5 84.3,284.8 100.4,264.9 115.6,250.1 129.5,238.7 146.8,229.0 164.5,223.1 174.6,219.7 208.3,217.2 237.8,218.9 254.7,224.8 267.4,234.1 280.0,246.8 296.9,259.4 318.0,272.1 336.9,278.5 341.1,291.1 322.2,298.3 296.9,295.4 280.0,298.3 254.7,293.3 237.8,295.4 225.2,301.7 208.3,305.9 187.2,310.2 174.6,316.5 172.5,333.4 153.5,336.4 151.8,348.2 157.7,360.9 153.5,372.7 140.0,377.8 124.0,376.1 111.3,371.9 94.5,358.3 77.6,350.7 52.3,344.0 33.3,336.4 43.9,322.8" fill="#000" filter="url(#tGr1)" stroke="#000" stroke-width="8"/><polygon points="166.2,308.0 208.3,301.7 246.3,291.1 288.4,295.4 334.8,293.3 339.0,303.8 296.9,310.2 254.7,314.4 216.8,319.5 178.8,333.4 168.3,327.1" fill="#000" filter="url(#tOr4)" /><polygon points="166.2,308.0 208.3,301.7 246.3,291.1 288.4,295.4 334.8,293.3 339.0,303.8 296.9,310.2 254.7,314.4 216.8,319.5 178.8,333.4 168.3,327.1" fill="#000" filter="url(#tRd4)" /><polygon points="107.1,341.9 132.4,343.1 153.5,337.6 157.7,360.9 153.5,373.6 136.6,378.6 117.7,373.6 105.0,360.9" fill="#000" filter="url(#tOr3)" /><polygon points="132.4,358.8 153.5,350.3 174.6,365.1 183.9,386.2 175.4,405.3 153.5,394.7 137.5,379.9" fill="#000" filter="url(#tOr5)" /><g filter="url(#rough)"><polygon points="114.7,337.6 123.1,329.2 138.7,327.9 148.4,335.5 146.8,346.5 134.5,350.7 121.9,348.6" fill="#42a406" /><polygon points="128.2,259.4 166.2,242.5 208.3,234.1 246.3,242.5 263.1,255.2 284.2,272.1 330.6,282.7 328.5,291.1 284.2,286.9 263.1,272.1 229.4,261.5 195.7,257.3 166.2,261.5 136.6,267.0" fill="#fe0000" /><polygon points="117.7,284.8 132.4,276.3 166.2,278.5 195.7,272.1 216.8,278.5 225.2,289.0 204.1,295.4 174.6,293.3 153.5,301.7 136.6,308.0 121.9,297.5" fill="#fe0000" /><polygon points="33.3,336.4 69.2,310.2 90.3,308.0 111.3,314.4 113.4,331.3 98.7,344.0 81.8,352.4 69.2,356.7 52.3,350.3" fill="#fe0000" /></g><polygon points="33.3,336.4 69.2,310.2 90.3,308.0 111.3,314.4 113.4,331.3 98.7,344.0 81.8,352.4 69.2,356.7 52.3,350.3" fill="#000" filter="url(#tOr1)" /><polygon points="117.7,284.8 132.4,276.3 166.2,278.5 195.7,272.1 216.8,278.5 225.2,289.0 204.1,295.4 174.6,293.3 153.5,301.7 136.6,308.0 121.9,297.5" fill="#000" filter="url(#tOr1)" /><polygon points="170.4,314.4 237.8,301.7 322.2,305.9 347.5,314.4 339.0,365.1 280.0,386.2 216.8,386.2 170.4,365.1" fill="#000" filter="url(#tOl)" opacity="0.3"/><polygon points="132.4,356.7 170.4,314.4 237.8,301.7 322.2,298.3 347.5,314.4 322.2,356.7 237.8,386.2 187.2,398.9" fill="#000" filter="url(#tOr2)" opacity="0.3"/><path d="M54.0,312.5C56.0,310.3 55.0,310.2 60.0,306.0C65.0,301.8 64.3,304.5 69.0,300.0C73.7,295.5 73.3,297.8 74.0,292.5C74.7,287.2 70.7,289.0 71.0,284.0C71.3,279.0 72.8,281.8 75.0,277.5C77.2,273.2 79.2,273.8 77.5,271.0C75.8,268.2 72.2,271.8 70.0,269.0C67.8,266.2 69.3,265.2 71.0,262.5C72.7,259.8 72.0,260.5 75.0,261.0C78.0,261.5 77.0,266.3 80.0,264.0C83.0,261.7 81.0,260.0 84.0,254.0C87.0,248.0 85.7,248.2 89.0,246.0C92.3,243.8 90.7,246.2 94.0,247.5C97.3,248.8 95.3,250.0 99.0,250.0C102.7,250.0 102.2,250.0 105.0,247.5C107.8,245.0 104.2,246.7 107.5,242.5C110.8,238.3 111.2,236.7 115.0,235.0C118.8,233.3 115.7,238.8 119.0,237.5C122.3,236.2 121.3,235.5 125.0,231.0C128.7,226.5 126.7,226.8 130.0,224.0C133.3,221.2 132.0,221.8 135.0,222.5C138.0,223.2 135.7,226.5 139.0,226.0C142.3,225.5 143.2,224.7 145.0,221.0C146.8,217.3 143.2,217.3 144.5,215.0C145.8,212.7 147.2,216.5 149.0,214.0C150.8,211.5 148.0,210.2 150.0,207.5C152.0,204.8 150.8,206.0 155.0,206.0C159.2,206.0 158.8,208.7 162.5,207.5C166.2,206.3 163.2,203.3 166.0,202.5C168.8,201.7 166.3,204.5 171.0,205.0C175.7,205.5 174.5,204.0 180.0,204.0C185.5,204.0 181.7,203.8 187.5,205.0C193.3,206.2 191.7,207.5 197.5,207.5C203.3,207.5 201.2,207.7 205.0,205.0C208.8,202.3 205.3,200.5 209.0,199.5C212.7,198.5 210.3,198.5 216.0,202.0C221.7,205.5 219.3,207.0 226.0,210.0C232.7,213.0 230.2,211.0 236.0,211.0C241.8,211.0 238.5,209.5 243.5,210.0C248.5,210.5 246.8,209.2 251.0,212.5C255.2,215.8 251.8,216.2 256.0,220.0C260.2,223.8 258.8,221.0 263.5,224.0C268.2,227.0 266.2,224.5 270.0,229.0C273.8,233.5 271.0,235.5 275.0,237.5C279.0,239.5 277.5,233.8 282.0,235.0C286.5,236.2 283.5,238.5 288.5,241.0C293.5,243.5 293.2,238.7 297.0,242.5C300.8,246.3 296.7,248.0 300.0,252.5C303.3,257.0 302.0,256.5 307.0,256.0C312.0,255.5 310.0,251.0 315.0,251.0C320.0,251.0 317.5,253.8 322.0,256.0C326.5,258.2 324.7,258.7 328.5,257.5C332.3,256.3 329.7,253.7 333.5,252.5C337.3,251.3 338.3,251.5 340.0,254.0C341.7,256.5 338.2,256.0 338.5,260.0C338.8,264.0 341.0,261.8 341.0,266.0C341.0,270.2 341.0,269.5 338.5,272.5C336.0,275.5 334.3,271.7 333.5,275.0C332.7,278.3 333.8,276.7 336.0,282.5C338.2,288.3 336.7,286.7 340.0,292.5C343.3,298.3 342.0,296.7 346.0,300.0C350.0,303.3 349.5,298.3 352.0,302.5C354.5,306.7 353.8,306.7 353.5,312.5C353.2,318.3 352.7,314.2 351.0,320.0C349.3,325.8 347.7,324.2 348.5,330.0C349.3,335.8 351.8,335.0 353.5,337.5" fill="none" stroke="#42a406" stroke-width="14" stroke-linejoin="round"/><path d="M54.0,312.5C56.0,310.3 55.0,310.2 60.0,306.0C65.0,301.8 64.3,304.5 69.0,300.0C73.7,295.5 73.3,297.8 74.0,292.5C74.7,287.2 70.7,289.0 71.0,284.0C71.3,279.0 72.8,281.8 75.0,277.5C77.2,273.2 79.2,273.8 77.5,271.0C75.8,268.2 72.2,271.8 70.0,269.0C67.8,266.2 69.3,265.2 71.0,262.5C72.7,259.8 72.0,260.5 75.0,261.0C78.0,261.5 77.0,266.3 80.0,264.0C83.0,261.7 81.0,260.0 84.0,254.0C87.0,248.0 85.7,248.2 89.0,246.0C92.3,243.8 90.7,246.2 94.0,247.5C97.3,248.8 95.3,250.0 99.0,250.0C102.7,250.0 102.2,250.0 105.0,247.5C107.8,245.0 104.2,246.7 107.5,242.5C110.8,238.3 111.2,236.7 115.0,235.0C118.8,233.3 115.7,238.8 119.0,237.5C122.3,236.2 121.3,235.5 125.0,231.0C128.7,226.5 126.7,226.8 130.0,224.0C133.3,221.2 132.0,221.8 135.0,222.5C138.0,223.2 135.7,226.5 139.0,226.0C142.3,225.5 143.2,224.7 145.0,221.0C146.8,217.3 143.2,217.3 144.5,215.0C145.8,212.7 147.2,216.5 149.0,214.0C150.8,211.5 149.7,209.7 150.0,207.5" fill="none" stroke="#2b55c8" stroke-width="2.6" stroke-linejoin="round"/><polygon points="253.9,333.4 258.1,331.3 260.2,335.5 256.8,340.6 252.6,343.1 253.4,337.6" fill="#0a5ce6" /><polygon points="324.3,265.8 329.8,265.4 330.6,270.4 325.5,270.8" fill="#0a5ce6" /></g></g><g filter="url(#softer)"><rect x="27.3" y="177" width="361.3" height="310" fill="none" stroke="#7a7a7a" stroke-width="0.8"/><line x1="45.5" y1="177" x2="45.5" y2="175.3" stroke="#555" stroke-width="0.6"/><line x1="188" y1="177" x2="188" y2="175.3" stroke="#555" stroke-width="0.6"/><line x1="330.5" y1="177" x2="330.5" y2="175.3" stroke="#555" stroke-width="0.6"/><line x1="52.5" y1="487" x2="52.5" y2="488.7" stroke="#555" stroke-width="0.6"/><line x1="197.5" y1="487" x2="197.5" y2="488.7" stroke="#555" stroke-width="0.6"/><line x1="343.5" y1="487" x2="343.5" y2="488.7" stroke="#555" stroke-width="0.6"/><line x1="27.3" y1="184" x2="25.6" y2="184" stroke="#555" stroke-width="0.6"/><line x1="27.3" y1="277.5" x2="25.6" y2="277.5" stroke="#555" stroke-width="0.6"/><line x1="27.3" y1="371" x2="25.6" y2="371" stroke="#555" stroke-width="0.6"/><line x1="27.3" y1="465" x2="25.6" y2="465" stroke="#555" stroke-width="0.6"/><line x1="388.6" y1="264" x2="390.3" y2="264" stroke="#555" stroke-width="0.6"/><line x1="388.6" y1="357.5" x2="390.3" y2="357.5" stroke="#555" stroke-width="0.6"/><line x1="388.6" y1="452.5" x2="390.3" y2="452.5" stroke="#555" stroke-width="0.6"/><text x="45.5" y="174" font-family="Liberation Serif,serif" font-weight="bold" font-size="5.5" fill="#1a1a1a" text-anchor="middle">107°0'E</text><text x="188" y="174" font-family="Liberation Serif,serif" font-weight="bold" font-size="5.5" fill="#1a1a1a" text-anchor="middle">108°0'E</text><text x="330.5" y="174" font-family="Liberation Serif,serif" font-weight="bold" font-size="5.5" fill="#1a1a1a" text-anchor="middle">109°0'E</text><text x="52.5" y="494.5" font-family="Liberation Serif,serif" font-weight="bold" font-size="5.5" fill="#1a1a1a" text-anchor="middle">107°0'E</text><text x="197.5" y="494.5" font-family="Liberation Serif,serif" font-weight="bold" font-size="5.5" fill="#1a1a1a" text-anchor="middle">108°0'E</text><text x="343.5" y="494.5" font-family="Liberation Serif,serif" font-weight="bold" font-size="5.5" fill="#1a1a1a" text-anchor="middle">109°0'E</text><text transform="translate(19.5,184) rotate(90)" x="0" y="0" font-family="Liberation Serif,serif" font-weight="bold" font-size="5.5" fill="#1a1a1a" text-anchor="middle">41°0'N</text><text transform="translate(19.5,277.5) rotate(90)" x="0" y="0" font-family="Liberation Serif,serif" font-weight="bold" font-size="5.5" fill="#1a1a1a" text-anchor="middle">40°30'N</text><text transform="translate(19.5,371) rotate(90)" x="0" y="0" font-family="Liberation Serif,serif" font-weight="bold" font-size="5.5" fill="#1a1a1a" text-anchor="middle">40°0'N</text><text transform="translate(19.5,465) rotate(90)" x="0" y="0" font-family="Liberation Serif,serif" font-weight="bold" font-size="5.5" fill="#1a1a1a" text-anchor="middle">39°30'N</text><text transform="translate(393,264) rotate(90)" x="0" y="0" font-family="Liberation Serif,serif" font-weight="bold" font-size="5.5" fill="#1a1a1a" text-anchor="middle">40°30'N</text><text transform="translate(393,357.5) rotate(90)" x="0" y="0" font-family="Liberation Serif,serif" font-weight="bold" font-size="5.5" fill="#1a1a1a" text-anchor="middle">40°0'N</text><text transform="translate(393,452.5) rotate(90)" x="0" y="0" font-family="Liberation Serif,serif" font-weight="bold" font-size="5.5" fill="#1a1a1a" text-anchor="middle">39°30'N</text><text x="46.7" y="192.8" font-family="Liberation Sans,sans-serif" font-size="10.4" text-anchor="middle" fill="#000" stroke="#000" stroke-width="0.25">N</text><polygon points="46.5,196 39.8,218.8 46.9,210" fill="#000"/><polygon points="46.5,196 53.7,218.8 46.9,210" fill="#fff" stroke="#000" stroke-width="0.7"/><text x="334.5" y="195.6" font-family="Liberation Serif,Noto Serif CJK SC,serif" font-weight="700" font-size="10.5" letter-spacing="1" fill="#1a1a1a" text-anchor="middle">库布其沙漠</text><text x="334.5" y="209" font-family="Liberation Serif,Noto Serif CJK SC,serif" font-weight="700" font-size="10.5" letter-spacing="1" fill="#1a1a1a" text-anchor="middle"><tspan font-family="Liberation Sans,sans-serif" font-weight="normal" letter-spacing="0">2015</tspan>年沙化土地类型</text><rect x="49.2" y="401.1" width="19.4" height="9.3" fill="#fe0000"/><text x="72.4" y="408.5" font-family="Liberation Serif,Noto Serif CJK SC,serif" font-weight="700" font-size="7.4" fill="#2a2a2a">流动沙地</text><rect x="49.2" y="414.2" width="19.4" height="9.3" fill="#fcaa04"/><text x="72.4" y="421.59999999999997" font-family="Liberation Serif,Noto Serif CJK SC,serif" font-weight="700" font-size="7.4" fill="#2a2a2a">半固定沙地</text><rect x="49.2" y="427.4" width="19.4" height="9.3" fill="#42a406"/><text x="72.4" y="434.79999999999995" font-family="Liberation Serif,Noto Serif CJK SC,serif" font-weight="700" font-size="7.4" fill="#2a2a2a">固定沙地</text><rect x="49.2" y="440.5" width="19.4" height="9.3" fill="#0a5ce6"/><text x="72.4" y="447.9" font-family="Liberation Serif,Noto Serif CJK SC,serif" font-weight="700" font-size="7.4" fill="#2a2a2a">水体</text><rect x="107.5" y="474.5" width="168.5" height="3.6" fill="#fff" stroke="#000" stroke-width="0.5"/><rect x="107.50" y="474.5" width="10.53" height="3.6" fill="#000"/><rect x="128.56" y="474.5" width="10.53" height="3.6" fill="#000"/><rect x="149.62" y="474.5" width="42.12" height="3.6" fill="#000"/><rect x="233.88" y="474.5" width="42.12" height="3.6" fill="#000"/><text x="107.50" y="471.6" font-family="Liberation Serif,serif" font-weight="bold" font-size="6.4" fill="#222" text-anchor="middle">0</text><text x="128.56" y="471.6" font-family="Liberation Serif,serif" font-weight="bold" font-size="6.4" fill="#222" text-anchor="middle">12.5</text><text x="149.62" y="471.6" font-family="Liberation Serif,serif" font-weight="bold" font-size="6.4" fill="#222" text-anchor="middle">25</text><text x="191.75" y="471.6" font-family="Liberation Serif,serif" font-weight="bold" font-size="6.4" fill="#222" text-anchor="middle">50</text><text x="233.88" y="471.6" font-family="Liberation Serif,serif" font-weight="bold" font-size="6.4" fill="#222" text-anchor="middle">75</text><text x="276.00" y="471.6" font-family="Liberation Serif,serif" font-weight="bold" font-size="6.4" fill="#222" text-anchor="middle">100</text><text x="278" y="478.6" font-family="Liberation Serif,serif" font-weight="bold" font-size="6.4" fill="#222">Km</text></g></g></svg>
<div class="t yr" id="y1"><span>1986</span><b>年</b></div>
<div class="t yr" id="y2"><span>2015</span><b>年</b></div>
<div class="t" id="src">资料来源：中国林科院卫星遥感监测</div>
</body></html>
